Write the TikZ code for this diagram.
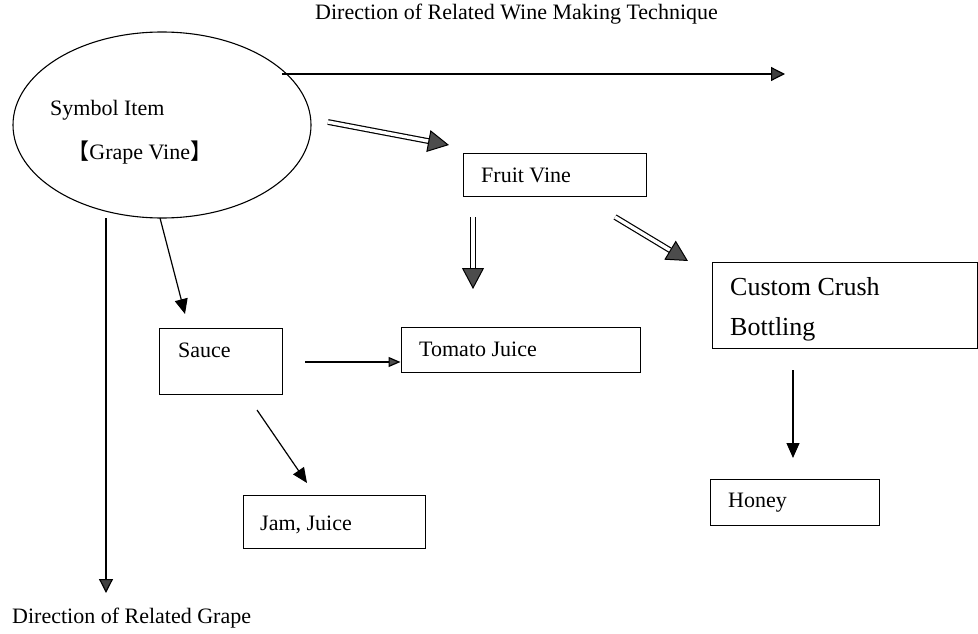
\documentclass[tikz,border=0pt]{standalone}
\usepackage{fontspec}
\setmainfont{Liberation Serif}
\newfontfamily\cjk{Noto Sans CJK SC}
\usetikzlibrary{arrows.meta,shapes.geometric}
\begin{document}
\begin{tikzpicture}[x=1pt,y=-1pt,
  box/.style={draw, line width=1pt, inner sep=0pt},
  lbl/.style={anchor=west, inner sep=0pt, font=\fontsize{22}{26}\selectfont},
  biglbl/.style={anchor=west, inner sep=0pt, font=\fontsize{26}{31}\selectfont},
  solidarr/.style={line width=1.2pt, -{Triangle[length=15pt,width=13pt]}},
  greyarr/.style={line width=1.2pt, -{Triangle[length=14pt,width=14pt,fill=black!75]}},
  smallarr/.style={line width=1.2pt, -{Triangle[length=12pt,width=10pt,fill=black!70]}},
  dblarr/.style={double, double distance=3.4pt, line width=1.2pt,
     -{Triangle[length=21pt,width=22pt,fill=black!70, line width=1pt]}}
]
\useasboundingbox (0,0) rectangle (978,634);

% ellipse
\node[draw, ellipse, line width=1.1pt, minimum width=298pt, minimum height=186pt, inner sep=0pt] (sym) at (162,125) {};
\node[lbl] (symt) at (50,110) {Symbol Item};
\node[lbl] (grape) at (80,153) {\makebox[0.42em][r]{\cjk 【}Grape Vine\makebox[0.42em][l]{\cjk 】}};

% titles
\node[lbl] (ttop) at (315,14) {Direction of Related Wine Making Technique};
\node[lbl] (tbot) at (12,618) {Direction of Related Grape};

% boxes
\node[box, minimum width=183pt, minimum height=43pt] (fruit) at (554.5,174.5) {};
\node[lbl] (fruitt) at (481,175) {Fruit Vine};
\node[box, minimum width=265pt, minimum height=86pt] (custom) at (844.5,305) {};
\node[biglbl] (custt1) at (730,287) {Custom Crush};
\node[biglbl] (custt2) at (730,329) {Bottling};
\node[box, minimum width=169pt, minimum height=46pt] (honey) at (794.5,502) {};
\node[lbl] (honeyt) at (728,503) {Honey};
\node[box, minimum width=239pt, minimum height=45pt] (tomato) at (520.5,349.5) {};
\node[lbl] (tomatot) at (419,349) {Tomato Juice};
\node[box, minimum width=123pt, minimum height=66pt] (sauce) at (220.5,361) {};
\node[lbl] (saucet) at (178,350) {Sauce};
\node[box, minimum width=182pt, minimum height=53pt] (jam) at (334,521.5) {};
\node[lbl] (jamt) at (260,525) {Jam, Juice};

% connector end points
\coordinate (topS) at (282,74);
\coordinate (topE) at (785,74);
\coordinate (leftS) at (106,218);
\coordinate (leftE) at (106,593);
\coordinate (sauS) at (160,218);
\coordinate (sauE) at (185,314);
\coordinate (d1S) at (328,122);
\coordinate (d1E) at (449,145);
\coordinate (d2S) at (473,217);
\coordinate (d2E) at (473,289);
\coordinate (d3S) at (615,217);
\coordinate (d3E) at (688,261);
\coordinate (honS) at (793,370);
\coordinate (honE) at (793,458);
\coordinate (tomS) at (305,362);
\coordinate (jamS) at (257,410);
\coordinate (jamE) at (307,483);

\draw[greyarr] (topS) -- (topE);
\draw[greyarr] (leftS) -- (leftE);
\draw[solidarr] (sauS) -- (sauE);
\draw[dblarr] (d1S) -- (d1E);
\draw[dblarr] (d2S) -- (d2E);
\draw[dblarr] (d3S) -- (d3E);
\draw[solidarr] (honS) -- (honE);
\draw[smallarr] (tomS) -- (tomato.west |- tomS);
\draw[solidarr] (jamS) -- (jamE);
\end{tikzpicture}
\end{document}
